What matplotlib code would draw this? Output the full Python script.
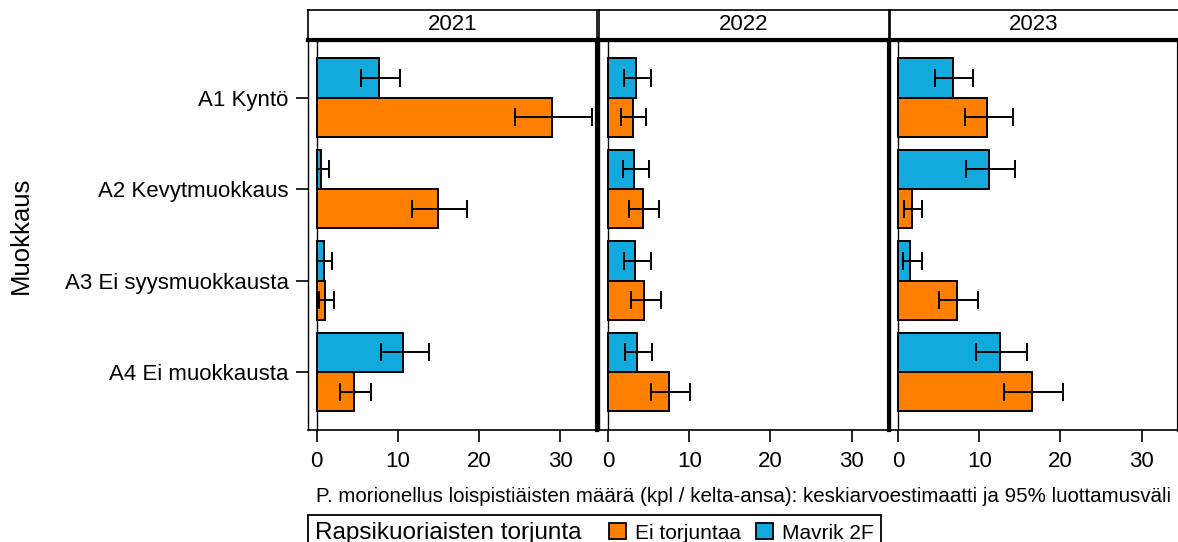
import matplotlib as mpl
import matplotlib.pyplot as plt
from matplotlib.patches import Patch
from matplotlib.offsetbox import HPacker
import numpy as np

mpl.rcParams.update({
    "font.family": ["Liberation Sans", "DejaVu Sans"],
    "axes.linewidth": 1.0,
})

# --- Data ---
years = ["2021", "2022", "2023"]
categories = ["A1 Kyntö", "A2 Kevytmuokkaus", "A3 Ei syysmuokkausta", "A4 Ei muokkausta"]

# Mavrik 2F (blue)
mavrik_mean = {"2021": [7.7, 0.57, 0.86, 10.7],
               "2022": [3.45, 3.16, 3.3, 3.5],
               "2023": [6.75, 11.15, 1.48, 12.54]}
mavrik_lo = {"2021": [5.5, 0.05, 0.07, 7.9],
             "2022": [1.93, 1.8, 1.93, 2.05],
             "2023": [4.6, 8.4, 0.62, 9.6]}
mavrik_hi = {"2021": [10.3, 1.52, 1.93, 13.8],
             "2022": [5.25, 5.0, 5.25, 5.4],
             "2023": [9.25, 14.4, 2.9, 15.9]}

# Ei torjuntaa (orange)
ei_mean = {"2021": [29.0, 14.9, 1.02, 4.56],
           "2022": [3.0, 4.27, 4.4, 7.56],
           "2023": [10.9, 1.65, 7.24, 16.45]}
ei_lo = {"2021": [24.4, 11.7, 0.3, 2.9],
         "2022": [1.6, 2.6, 2.8, 5.3],
         "2023": [8.2, 0.66, 5.06, 13.0]}
ei_hi = {"2021": [33.9, 18.5, 2.1, 6.7],
         "2022": [4.7, 6.3, 6.5, 10.1],
         "2023": [14.1, 2.9, 9.87, 20.3]}

COL_EI = "#FF8000"
COL_MAV = "#12AADC"

W, H = 1178, 542
fig = plt.figure(figsize=(W / 100, H / 100), dpi=100)


def px(l, t, r, b):
    return [l / W, 1 - b / H, (r - l) / W, (b - t) / H]


lefts = [308, 599.5, 889.5]
pw = 289
y = np.arange(len(categories))
bh = 0.43

for i, yr in enumerate(years):
    l = lefts[i]
    ax = fig.add_axes(px(l, 39.5, l + pw, 429.5))

    m = np.array(mavrik_mean[yr])
    e = np.array(ei_mean[yr])
    ax.barh(y - bh / 2, m, height=bh, color=COL_MAV, edgecolor="k", linewidth=1.4, zorder=2)
    ax.barh(y + bh / 2, e, height=bh, color=COL_EI, edgecolor="k", linewidth=1.4, zorder=2)
    ax.errorbar(m, y - bh / 2,
                xerr=[m - np.array(mavrik_lo[yr]), np.array(mavrik_hi[yr]) - m],
                fmt="none", ecolor="k", elinewidth=1.4, capsize=6.8, capthick=1.4, zorder=3)
    ax.errorbar(e, y + bh / 2,
                xerr=[e - np.array(ei_lo[yr]), np.array(ei_hi[yr]) - e],
                fmt="none", ecolor="k", elinewidth=1.4, capsize=6.8, capthick=1.4, zorder=3)
    ax.axvline(0, color="k", linewidth=1.0, zorder=1)

    ax.set_xlim(-1.07, 34.56)
    ax.set_ylim(3.63, -0.637)
    ax.set_xticks([0, 10, 20, 30])
    ax.tick_params(axis="x", direction="out", length=8.6, width=1.2, pad=7,
                   labelsize=16)
    if i == 0:
        ax.set_yticks(y)
        ax.set_yticklabels(categories)
        ax.tick_params(axis="y", direction="out", length=9, width=1.2, pad=5,
                       labelsize=16)
    else:
        ax.set_yticks([])
    ax.spines["left"].set_linewidth(1.0)
    ax.spines["bottom"].set_linewidth(1.2)
    ax.spines["right"].set_linewidth(3.0)
    ax.spines["top"].set_linewidth(3.0)

    # facet strip
    sx = fig.add_axes(px(l, 9.5, l + pw, 39.5))
    sx.set_xticks([])
    sx.set_yticks([])
    for s in ["left", "right", "top"]:
        sx.spines[s].set_linewidth(1.2)
    sx.spines["bottom"].set_linewidth(3.0)
    sx.text(0.5, 0.5, yr, transform=sx.transAxes, ha="center", va="center",
            fontsize=16)

fig.text(21 / W, 1 - 235 / H, "Muokkaus", rotation=90, ha="center", va="center",
         fontsize=18.5)
fig.text(743 / W, 1 - 497 / H,
         "P. morionellus loispistiäisten määrä (kpl / kelta-ansa): keskiarvoestimaatti ja 95% luottamusväli",
         ha="center", va="center", fontsize=14.8)

# legend with the title placed inline
handles = [Patch(facecolor=COL_EI, edgecolor="k", linewidth=1.3),
           Patch(facecolor=COL_MAV, edgecolor="k", linewidth=1.3)]
labels = ["Ei torjuntaa", "Mavrik 2F"]
leg = fig.legend(handles, labels, title="Rapsikuoriaisten torjunta", ncol=2,
                 loc="upper left", bbox_to_anchor=(308 / W, 1 - 515 / H),
                 fontsize=15, title_fontsize=17.5, frameon=True, fancybox=False,
                 edgecolor="k", framealpha=1, borderpad=0.25,
                 handlelength=0.8, handleheight=0.8, handletextpad=0.43,
                 columnspacing=0.75, borderaxespad=0)
leg.get_frame().set_linewidth(1.3)
leg._legend_box = HPacker(pad=5, sep=20,
                          children=[leg._legend_title_box, leg._legend_handle_box],
                          align="center", mode="fixed")
leg._legend_box.set_figure(fig)
leg._legend_box.set_offset(leg._findoffset)

fig.savefig("out.png", dpi=100)
